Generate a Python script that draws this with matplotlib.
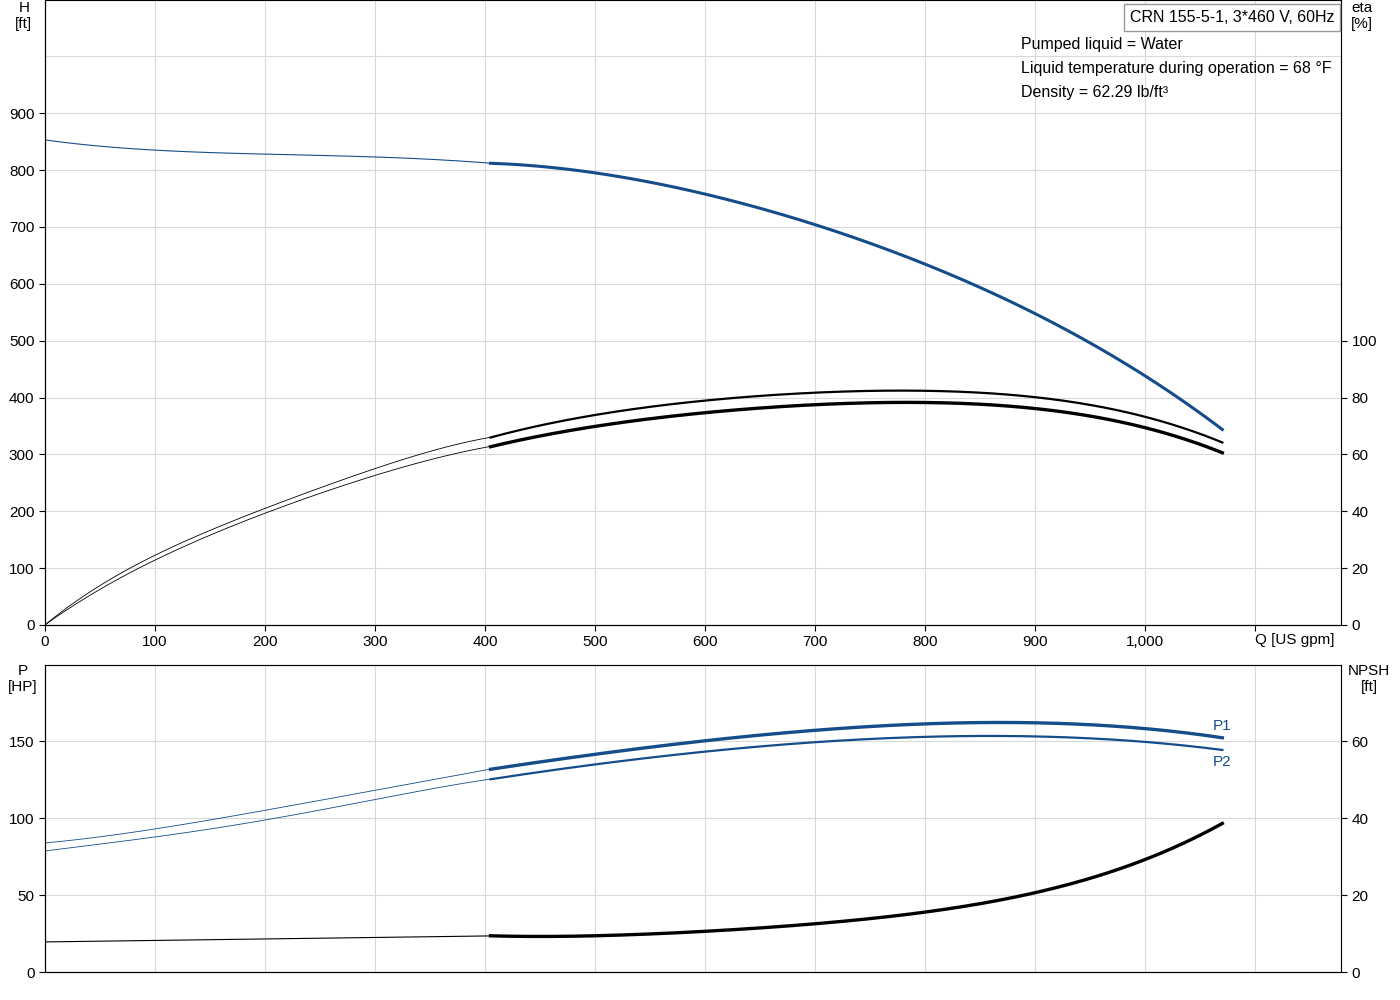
import matplotlib
matplotlib.use("Agg")
import matplotlib.pyplot as plt
import numpy as np

plt.rcParams["font.family"] = ["Liberation Sans", "DejaVu Sans"]

BLUE = "#154c8a"

q_lo = [0, 100, 200, 300, 405]
q_hi = [405, 500, 600, 700, 800, 900, 1000, 1070]

h_lo = [853, 835, 828, 823, 812]
h_hi = [812, 795, 757, 705, 635, 545, 440, 343]

eta1_lo = [0, 24.5, 41, 55, 66]
eta1_hi = [66, 73.7, 79, 81.8, 82.5, 79.6, 73.7, 64]
eta2_lo = [0, 22.8, 39.3, 52.6, 62.8]
eta2_hi = [62.8, 69.5, 75, 77.5, 78.2, 75.8, 69.8, 60.4]

p1_lo = [83.8, 92.9, 105, 118, 131.8]
p1_hi = [131.8, 141, 150.6, 157, 161, 161.7, 158.4, 152]
p2_lo = [78.6, 87.7, 98.7, 112, 125.3]
p2_hi = [125.3, 134.4, 143.5, 149.4, 152.6, 152.6, 150, 144]
npsh_lo = [7.8, 8.2, 8.6, 9.0, 9.35]
npsh_hi = [9.35, 9.6, 10.4, 12.5, 15.6, 20.8, 29, 38.7]


def smooth(x, y, deg=4, n=200):
    c = np.polyfit(x, y, min(len(x) - 1, deg))
    xs = np.linspace(x[0], x[-1], n)
    return xs, np.polyval(c, xs)


fig = plt.figure(figsize=(14, 10), dpi=100)
ax = fig.add_axes([0.032, 0.375, 0.926, 0.625])
axe = ax.twinx()
bx = fig.add_axes([0.032, 0.028, 0.926, 0.307])
bxn = bx.twinx()

for a in (ax, bx):
    a.set_xlim(0, 1178)
    a.set_xticks(range(0, 1101, 100))
    a.grid(color="#d9d9d9", lw=0.8)
    a.set_axisbelow(True)
    for s in ("top", "right"):
        a.spines[s].set_color("#b0b0b0")
    a.tick_params(labelsize=11, length=4)

ax.set_ylim(0, 1099)
ax.set_yticks(range(0, 901, 100))
ax.axhline(1000, color="#d9d9d9", lw=0.8, zorder=0)
ax.set_xticklabels(["0"] + [f"{v:,}" for v in range(100, 1001, 100)] + [""])
axe.set_ylim(0, 219.8)
axe.set_yticks(range(0, 101, 20))
axe.tick_params(labelsize=11, length=4)
axe.spines["right"].set_color("black")

# H curve
xs, ys = smooth(q_lo, h_lo)
ax.plot(xs, ys, color=BLUE, lw=0.8)
xs, ys = smooth(q_hi, h_hi)
ax.plot(xs, ys, color=BLUE, lw=2.2)

# eta curves
for lo, hi, w in ((eta1_lo, eta1_hi, 1.6), (eta2_lo, eta2_hi, 2.4)):
    xs, ys = smooth(q_lo, lo)
    axe.plot(xs, ys, color="black", lw=0.6)
    xs, ys = smooth(q_hi, hi)
    axe.plot(xs, ys, color="black", lw=w)

bx.set_ylim(0, 199.4)
bx.set_yticks([0, 50, 100, 150])
bx.set_xticklabels([])
bx.tick_params(axis="x", length=0)
bxn.set_ylim(0, 79.76)
bxn.set_yticks([0, 20, 40, 60])
bxn.tick_params(labelsize=11, length=4)
bxn.spines["right"].set_color("black")

for lo, hi, w in ((p1_lo, p1_hi, 2.4), (p2_lo, p2_hi, 1.6)):
    xs, ys = smooth(q_lo, lo)
    bx.plot(xs, ys, color=BLUE, lw=0.6)
    xs, ys = smooth(q_hi, hi)
    bx.plot(xs, ys, color=BLUE, lw=w)
bx.text(1070, p1_hi[-1] + 3, "P1", color=BLUE, fontsize=11, ha="center", va="bottom")
bx.text(1070, p2_hi[-1] - 3, "P2", color=BLUE, fontsize=11, ha="center", va="top")

xs, ys = smooth(q_lo, npsh_lo, deg=1)
bxn.plot(xs, ys, color="black", lw=0.8)
xs, ys = smooth(q_hi, npsh_hi)
bxn.plot(xs, ys, color="black", lw=2.4)

fig.text(0.017, 0.999, "H\n[ft]", ha="center", va="top", fontsize=11)
fig.text(0.973, 0.999, "eta\n[%]", ha="center", va="top", fontsize=11)
fig.text(0.016, 0.336, "P\n[HP]", ha="center", va="top", fontsize=11)
fig.text(0.978, 0.336, "NPSH\n[ft]", ha="center", va="top", fontsize=11)
fig.text(0.953, 0.36, "Q [US gpm]", ha="right", va="center", fontsize=11)

fig.text(0.953, 0.99, "CRN 155-5-1, 3*460 V, 60Hz", ha="right", va="top", fontsize=11.5,
         bbox=dict(facecolor="white", edgecolor="#999999", boxstyle="square,pad=0.35"))
for i, t in enumerate(["Pumped liquid = Water",
                       "Liquid temperature during operation = 68 °F",
                       "Density = 62.29 lb/ft³"]):
    fig.text(0.729, 0.956 - i * 0.024, t, ha="left", va="center", fontsize=11.5)

fig.savefig("out.png", dpi=100)
